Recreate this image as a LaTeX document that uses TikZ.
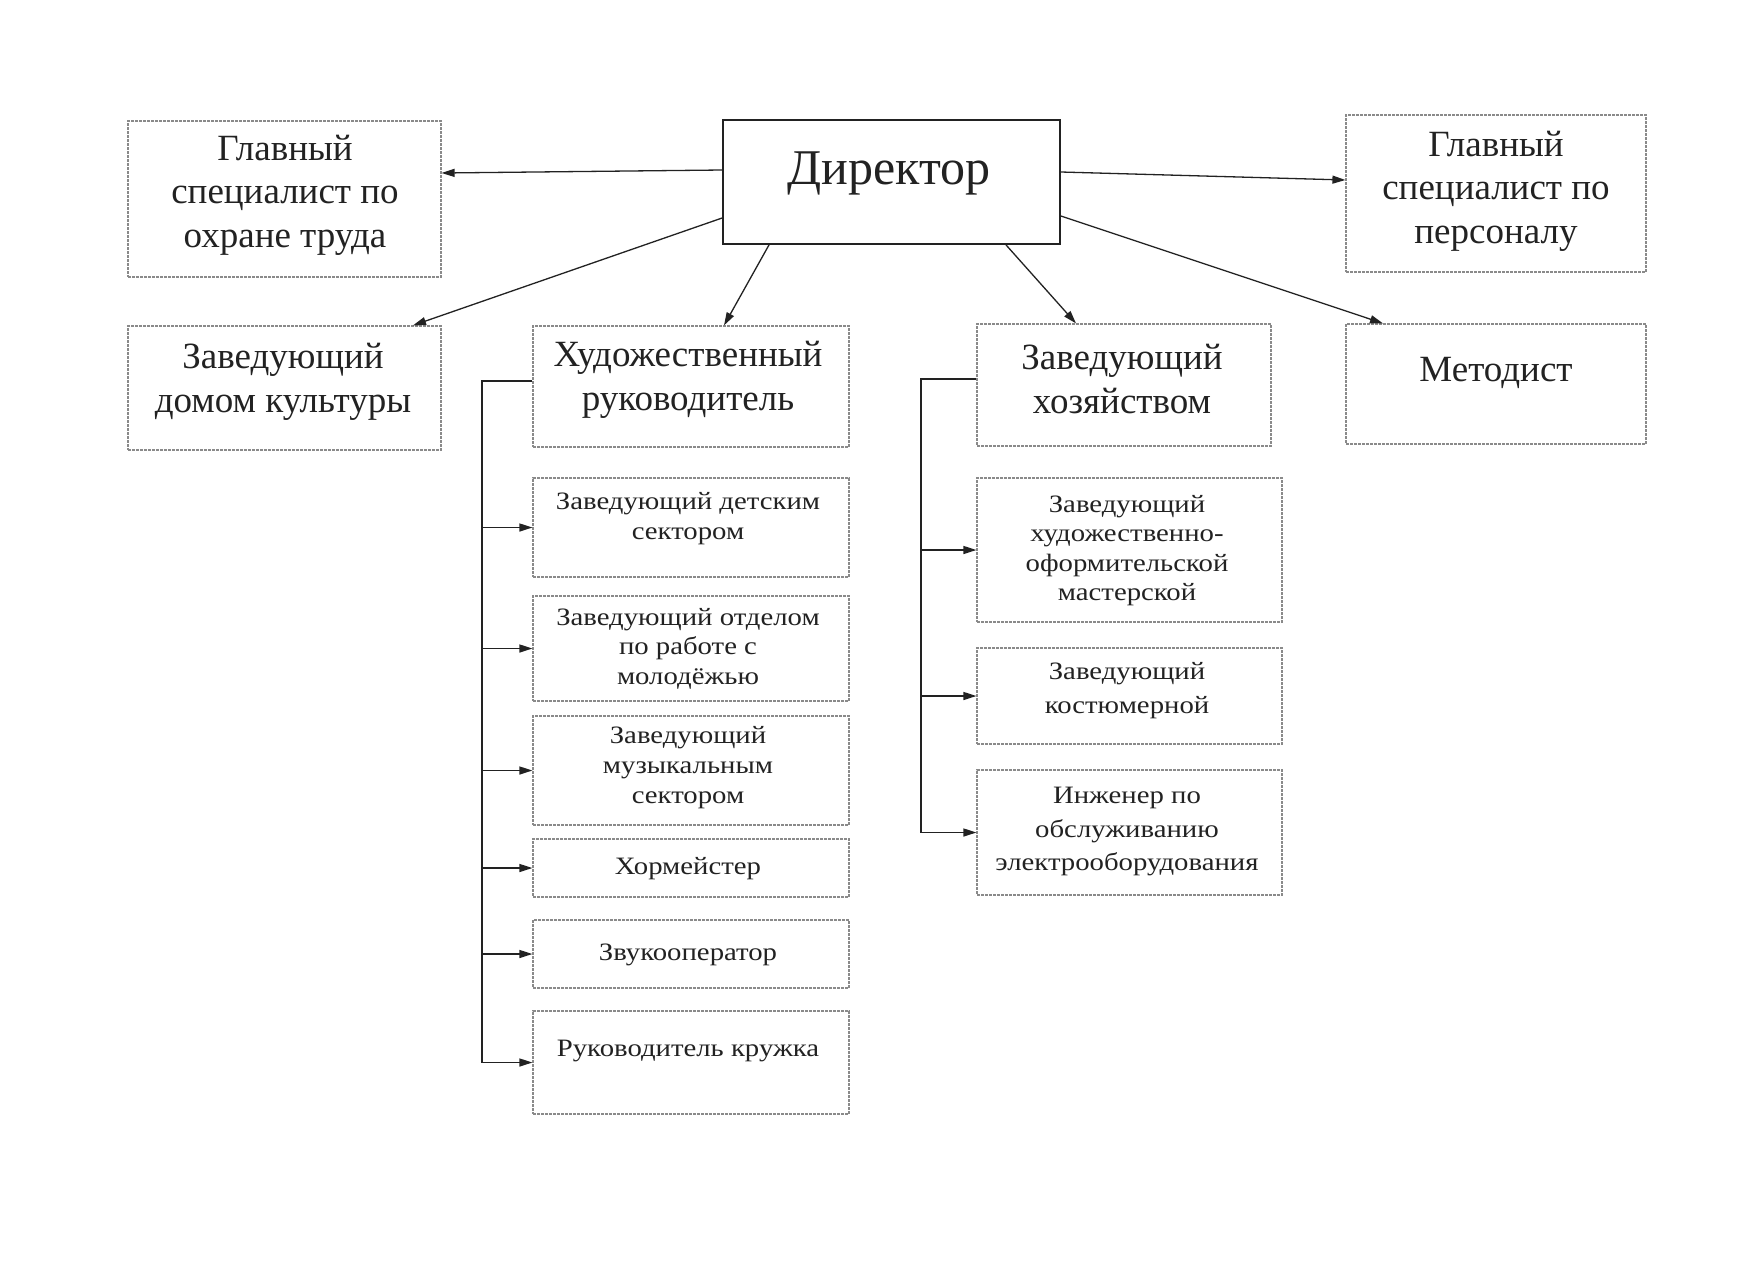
\documentclass[tikz,border=0pt]{standalone}
\usepackage{fontspec}
\setmainfont{Liberation Serif}
\newfontfamily\widefont[FakeStretch=1.15]{Liberation Serif}
\usetikzlibrary{arrows.meta,calc}
\definecolor{ink}{HTML}{222222}
\definecolor{frame}{HTML}{8A8A8A}
\tikzset{
  box/.style={draw=frame, line width=1.2pt, dash pattern=on 3pt off 1pt, inner sep=0pt, fill=white},
  dirbox/.style={draw=ink, line width=1.8pt, inner sep=0pt, fill=white},
  big/.style={text=ink, align=center, inner sep=0pt, yshift=-3pt, font=\fontsize{37}{43.6}\selectfont},
  small/.style={text=ink, align=center, inner sep=0pt, yshift=-2.5pt, font=\widefont\fontsize{25}{29.6}\selectfont},
  arr/.style={draw=ink, line width=1.3pt, -{Triangle[length=13pt,width=8pt]}},
  line/.style={draw=ink, line width=1.3pt}
}
\begin{document}
\begin{tikzpicture}[x=1pt,y=-1pt]
\path[use as bounding box, fill=white] (0,0) rectangle (1752,1264);
% top level boxes
\node[dirbox, minimum width=337, minimum height=124] (dir) at (891.5,182) {};
\node[text=ink, inner sep=0pt, yshift=-3pt, font=\fontsize{50}{56}\selectfont] (dirt) at (889,170) {Директор};
\node[box, minimum width=313, minimum height=156] (ohr) at (284.5,199) {};
\node[big] (ohrt) at (285,192) {Главный\\специалист по\\охране труда};
\node[box, minimum width=300, minimum height=157] (pers) at (1496,193.5) {};
\node[big] (perst) at (1496,188) {Главный\\специалист по\\персоналу};
\node[box, minimum width=313, minimum height=124] (dk) at (284.5,388) {};
\node[big] (dkt) at (283,379) {Заведующий\\домом культуры};
\node[box, minimum width=316, minimum height=121] (hr) at (691,386.5) {};
\node[big] (hrt) at (688,377) {Художественный\\руководитель};
\node[box, minimum width=294, minimum height=122] (zh) at (1124,385) {};
\node[big] (zht) at (1122,376) {Заведующий\\хозяйством};
\node[box, minimum width=300, minimum height=120] (met) at (1496,384) {};
\node[big] (mett) at (1496,370) {Методист};
% left column
\node[box, minimum width=316, minimum height=99] (det) at (691,527.5) {};
\node[small] (dett) at (688,516) {Заведующий детским\\сектором};
\node[box, minimum width=316, minimum height=105] (mol) at (691,648.5) {};
\node[small] (molt) at (688,646) {Заведующий отделом\\по работе с\\молодёжью};
\node[box, minimum width=316, minimum height=109] (muz) at (691,770.5) {};
\node[small] (muzt) at (688,765) {Заведующий\\музыкальным\\сектором};
\node[box, minimum width=316, minimum height=58] (hor) at (691,868) {};
\node[small] (hort) at (688,866) {Хормейстер};
\node[box, minimum width=316, minimum height=68] (zvuk) at (691,954) {};
\node[small] (zvukt) at (688,952) {Звукооператор};
\node[box, minimum width=316, minimum height=103] (ruk) at (691,1062.5) {};
\node[small] (rukt) at (688,1048) {Руководитель кружка};
% right column
\node[box, minimum width=305, minimum height=144] (mas) at (1129.5,550) {};
\node[small] (mast) at (1127,548) {Заведующий\\художественно-\\оформительской\\мастерской};
\node[box, minimum width=305, minimum height=96] (kos) at (1129.5,696) {};
\node[small, font=\widefont\fontsize{25}{33.5}\selectfont] (kost) at (1127,688) {Заведующий\\костюмерной};
\node[box, minimum width=305, minimum height=125] (ing) at (1129.5,832.5) {};
\node[small, font=\widefont\fontsize{25}{33.5}\selectfont] (ingt) at (1127,829) {Инженер по\\обслуживанию\\электрооборудования};
% connectors from director
\draw[arr] ([yshift=12pt]dir.west) -- ([yshift=26pt]ohr.east);
\draw[arr] ([yshift=10pt]dir.east) -- ([yshift=13.5pt]pers.west);
\draw[arr] ([yshift=-36pt]dir.west) -- ([xshift=128.5pt]dk.north);
\draw[arr] ([xshift=-122.5pt]dir.south) -- ([xshift=33pt]hr.north);
\draw[arr] ([xshift=114.5pt]dir.south) -- ([xshift=-48pt]zh.north);
\draw[arr] ([yshift=-34pt]dir.east) -- ([xshift=-113pt]met.north);
% left bus
\coordinate (bl) at (482,381);
\draw[line] ([yshift=5.5pt]hr.west) -- (bl) -- (bl |- ruk.west);
\foreach \n in {det,mol,muz,hor,zvuk,ruk}
  \draw[arr] (bl |- \n.west) -- (\n.west);
% right bus
\coordinate (br) at (921,379);
\draw[line] ([yshift=6pt]zh.west) -- (br) -- (br |- ing.west);
\foreach \n in {mas,kos,ing}
  \draw[arr] (br |- \n.west) -- (\n.west);
\end{tikzpicture}
\end{document}
